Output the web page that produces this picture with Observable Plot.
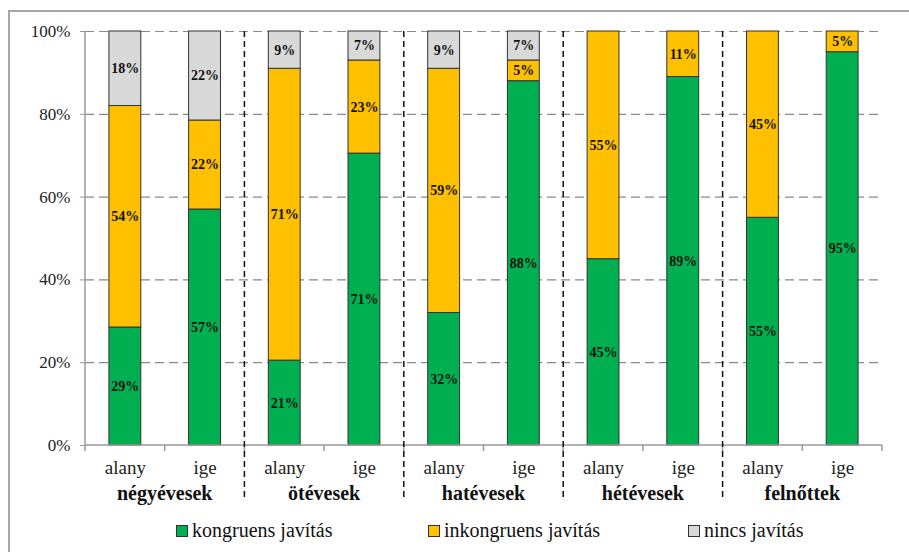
<!DOCTYPE html>
<html><head><meta charset="utf-8">
<script src="https://cdn.jsdelivr.net/npm/d3@7"></script>
<script src="https://cdn.jsdelivr.net/npm/@observablehq/plot@0.6"></script>
<style>
body{margin:0;background:#fff;overflow:hidden;width:909px;height:552px;position:relative;font-family:"Liberation Serif","Times New Roman",serif;}
#frame{position:absolute;left:8px;top:10px;width:1000px;height:1000px;border:2px solid #a6a6a6;}
#chart{position:absolute;left:0;top:0;}
#legend{position:absolute;left:0;top:518px;width:909px;height:24px;}
.item{position:absolute;top:0;display:flex;align-items:center;height:24px;font-size:20px;color:#111;white-space:nowrap;}
.sw{width:10px;height:10px;border:1px solid #333;margin-right:4px;position:relative;top:1px;}
</style></head><body>
<div id="frame"></div><div id="chart"></div><div id="legend"></div>
<script>
const groups = ["négyévesek", "ötévesek", "hatévesek", "hétévesek", "felnőttek"];
const subs = ["alany", "ige"];
const series = ["kongruens javítás", "inkongruens javítás", "nincs javítás"];
const colors = ["#00B050", "#FFC000", "#D9D9D9"];
// per bar: négy-alany, négy-ige, öt-alany, öt-ige, hat-alany, hat-ige, hét-alany, hét-ige, felnőtt-alany, felnőtt-ige
const kongruens   = [28.5, 57,   20.5, 70.5, 32, 88, 45, 89, 55, 95];
const inkongruens = [53.5, 21.5, 70.5, 22.5, 59, 5,  55, 11, 45, 5];
const nincs       = [18,   21.5, 9,    7,    9,  7,  0,  0,  0,  0];
const yTicks = [0, 20, 40, 60, 80, 100];

const keys = groups.flatMap(g => subs.map(s => g + "|" + s));
const arrays = [kongruens, inkongruens, nincs];
const data = [];
keys.forEach((k, i) => arrays.forEach((arr, j) => {
  if (arr[i] > 0) data.push({key: k, series: series[j], value: arr[i]});
}));

const font = '"Liberation Serif","Times New Roman",serif';

function decor(index, scales, values, dims) {
  const x = scales.x, y = scales.y;
  const bw = x.bandwidth();
  const step = x.step();
  const pad = (step - bw) / 2;
  const g = d3.create("svg:g");
  const xl = dims.marginLeft, xr = dims.width - dims.marginRight;
  const y0 = y(0), yTop = y(100);
  g.append("line").attr("x1", xl).attr("x2", xl).attr("y1", yTop).attr("y2", y0)
    .attr("stroke", "#9a9a9a").attr("stroke-width", 1.5);
  g.append("line").attr("x1", xl).attr("x2", xr).attr("y1", y0).attr("y2", y0)
    .attr("stroke", "#9a9a9a").attr("stroke-width", 1.5);
  const bounds = keys.map(k => x(k) - pad).concat([x(keys[keys.length - 1]) + bw + pad]);
  bounds.forEach(b => g.append("line").attr("x1", b).attr("x2", b).attr("y1", y0).attr("y2", y0 + 6)
    .attr("stroke", "#9a9a9a").attr("stroke-width", 1.5));
  groups.slice(1).forEach(gr => {
    const b = x(gr + "|alany") - pad;
    g.append("line").attr("x1", b).attr("x2", b).attr("y1", yTop).attr("y2", y0 + 56)
      .attr("stroke", "#111").attr("stroke-width", 1.5).attr("stroke-dasharray", "6,4");
  });
  groups.forEach(gr => {
    const cx = (x(gr + "|alany") + x(gr + "|ige") + bw) / 2;
    g.append("text").attr("x", cx).attr("y", y0 + 55).attr("text-anchor", "middle")
      .attr("font-weight", "bold").attr("font-size", 20).attr("font-family", font)
      .attr("fill", "#111").text(gr);
  });
  return g.node();
}

const chart = Plot.plot({
  width: 909,
  height: 510,
  marginLeft: 85,
  marginRight: 27,
  marginTop: 31,
  marginBottom: 65,
  style: {fontFamily: font, color: "#222", background: "transparent", overflow: "visible"},
  x: {domain: keys, paddingInner: 0.6, paddingOuter: 0.3, round: false},
  y: {domain: [0, 100]},
  color: {domain: series, range: colors},
  marks: [
    Plot.ruleY(yTicks.filter(d => d > 0), {stroke: "#8a8a8a", strokeWidth: 1.2, strokeDasharray: "9,5"}),
    Plot.barY(data, {x: "key", y: "value", fill: "series", stroke: "#333", strokeWidth: 1}),
    Plot.text(data, Plot.stackY({x: "key", y: "value", z: "series", text: d => Math.round(d.value) + "%",
      fontWeight: "bold", fontSize: 14, fill: "#111"})),
    Plot.axisY({ticks: yTicks, tickFormat: d => d + "%", tickSize: 5, tickPadding: 10, fontSize: 17,
      label: null, stroke: "#9a9a9a", fill: "#222"}),
    Plot.axisX({tickFormat: k => k.split("|")[1], tickSize: 0, tickPadding: 15, fontSize: 19,
      label: null, fill: "#222"}),
    decor
  ]
});
document.getElementById("chart").appendChild(chart);

const legend = document.getElementById("legend");
const lefts = [176, 428, 688];
series.forEach((s, i) => {
  const it = document.createElement("div");
  it.className = "item";
  it.style.left = lefts[i] + "px";
  const sw = document.createElement("span");
  sw.className = "sw";
  sw.style.background = colors[i];
  it.appendChild(sw);
  const t = document.createElement("span");
  t.textContent = s;
  it.appendChild(t);
  legend.appendChild(it);
});
</script>
</body></html>
